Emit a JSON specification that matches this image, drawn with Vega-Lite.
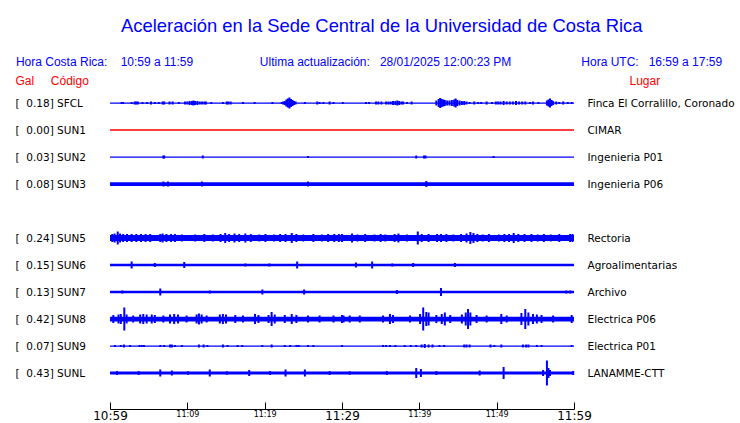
{
  "$schema": "https://vega.github.io/schema/vega-lite/v6.json",
  "width": 464,
  "height": 297,
  "autosize": {"type": "none"},
  "padding": {"left": 110, "right": 166, "top": 89.5, "bottom": 36.5},
  "background": "white",
  "config": {"view": {"stroke": null}},
  "title": {
    "text": "\u200b\u00a0\u00a0\u00a0\u00a0\u00a0Aceleración en la Sede Central de la Universidad de Costa Rica",
    "subtitle": "Hora Costa Rica:\u00a0\u00a0\u00a0\u00a010:59 a 11:59\u00a0\u00a0\u00a0\u00a0\u00a0\u00a0\u00a0\u00a0\u00a0\u00a0\u00a0\u00a0\u00a0\u00a0\u00a0\u00a0\u00a0\u00a0\u00a0\u00a0Ultima actualización:\u00a0\u00a0\u00a028/01/2025 12:00:23 PM\u00a0\u00a0\u00a0\u00a0\u00a0\u00a0\u00a0\u00a0\u00a0\u00a0\u00a0\u00a0\u00a0\u00a0\u00a0\u00a0\u00a0\u00a0\u00a0\u00a0\u00a0Hora UTC:\u00a0\u00a0\u00a016:59 a 17:59",
    "anchor": "middle",
    "frame": "group",
    "dx": 27,
    "offset": 6,
    "font": "Liberation Sans",
    "fontSize": 18.4,
    "fontWeight": "normal",
    "color": "#0000ff",
    "subtitleFont": "Liberation Sans",
    "subtitleFontSize": 12,
    "subtitleColor": "#0000ff",
    "subtitlePadding": 22
  },
  "datasets": {
    "stations": [
      {"s": "SFCL", "lab": "[\u00a0\u00a00.18]\u00a0SFCL", "place": "Finca El Corralillo, Coronado", "base": 5},
      {"s": "SUN1", "lab": "[\u00a0\u00a00.00]\u00a0SUN1", "place": "CIMAR", "base": 6},
      {"s": "SUN2", "lab": "[\u00a0\u00a00.03]\u00a0SUN2", "place": "Ingenieria P01", "base": 5},
      {"s": "SUN3", "lab": "[\u00a0\u00a00.08]\u00a0SUN3", "place": "Ingenieria P06", "base": 15},
      {"s": "SUN4", "lab": "", "place": "", "base": 0},
      {"s": "SUN5", "lab": "[\u00a0\u00a00.24]\u00a0SUN5", "place": "Rectoria", "base": 24},
      {"s": "SUN6", "lab": "[\u00a0\u00a00.15]\u00a0SUN6", "place": "Agroalimentarias", "base": 10},
      {"s": "SUN7", "lab": "[\u00a0\u00a00.13]\u00a0SUN7", "place": "Archivo", "base": 10},
      {"s": "SUN8", "lab": "[\u00a0\u00a00.42]\u00a0SUN8", "place": "Electrica P06", "base": 19},
      {"s": "SUN9", "lab": "[\u00a0\u00a00.07]\u00a0SUN9", "place": "Electrica P01", "base": 5},
      {"s": "SUNL", "lab": "[\u00a0\u00a00.43]\u00a0SUNL", "place": "LANAMME-CTT", "base": 12}
    ],
    "traces": [
      {"s":"SFCL","t":1.5,"a":8},{"s":"SFCL","t":1.7,"a":8},{"s":"SFCL","t":2.8,"a":8},{"s":"SFCL","t":3.2,"a":12},{"s":"SFCL","t":3.4,"a":12},{"s":"SFCL","t":3.6,"a":12},{"s":"SFCL","t":4.2,"a":8},{"s":"SFCL","t":4.8,"a":8},{"s":"SFCL","t":5.3,"a":12},{"s":"SFCL","t":5.8,"a":8},{"s":"SFCL","t":6.3,"a":8},{"s":"SFCL","t":6.8,"a":12},{"s":"SFCL","t":7.0,"a":12},{"s":"SFCL","t":7.7,"a":12},{"s":"SFCL","t":8.1,"a":12},{"s":"SFCL","t":8.9,"a":8},{"s":"SFCL","t":9.7,"a":12},{"s":"SFCL","t":10.0,"a":12},{"s":"SFCL","t":10.3,"a":16},{"s":"SFCL","t":10.6,"a":16},{"s":"SFCL","t":10.8,"a":20},{"s":"SFCL","t":11.0,"a":16},{"s":"SFCL","t":11.3,"a":16},{"s":"SFCL","t":11.6,"a":12},{"s":"SFCL","t":11.9,"a":12},{"s":"SFCL","t":12.2,"a":12},{"s":"SFCL","t":12.4,"a":12},{"s":"SFCL","t":13.1,"a":8},{"s":"SFCL","t":14.6,"a":8},{"s":"SFCL","t":15.1,"a":12},{"s":"SFCL","t":15.3,"a":12},{"s":"SFCL","t":15.6,"a":12},{"s":"SFCL","t":17.2,"a":8},{"s":"SFCL","t":18.7,"a":8},{"s":"SFCL","t":21.0,"a":8},{"s":"SFCL","t":22.2,"a":8},{"s":"SFCL","t":22.4,"a":12},{"s":"SFCL","t":22.6,"a":16},{"s":"SFCL","t":22.8,"a":28},{"s":"SFCL","t":23.0,"a":36},{"s":"SFCL","t":23.2,"a":44},{"s":"SFCL","t":23.4,"a":32},{"s":"SFCL","t":23.6,"a":24},{"s":"SFCL","t":23.8,"a":16},{"s":"SFCL","t":24.0,"a":12},{"s":"SFCL","t":25.2,"a":8},{"s":"SFCL","t":26.8,"a":12},{"s":"SFCL","t":27.1,"a":8},{"s":"SFCL","t":27.6,"a":8},{"s":"SFCL","t":28.4,"a":12},{"s":"SFCL","t":28.9,"a":8},{"s":"SFCL","t":30.1,"a":8},{"s":"SFCL","t":33.1,"a":8},{"s":"SFCL","t":33.5,"a":8},{"s":"SFCL","t":34.4,"a":12},{"s":"SFCL","t":34.7,"a":12},{"s":"SFCL","t":35.1,"a":12},{"s":"SFCL","t":35.7,"a":12},{"s":"SFCL","t":36.0,"a":12},{"s":"SFCL","t":36.3,"a":12},{"s":"SFCL","t":36.6,"a":16},{"s":"SFCL","t":36.9,"a":16},{"s":"SFCL","t":37.15,"a":20},{"s":"SFCL","t":37.4,"a":16},{"s":"SFCL","t":37.7,"a":12},{"s":"SFCL","t":37.9,"a":12},{"s":"SFCL","t":38.4,"a":8},{"s":"SFCL","t":39.0,"a":12},{"s":"SFCL","t":42.2,"a":20},{"s":"SFCL","t":42.5,"a":32},{"s":"SFCL","t":42.7,"a":40},{"s":"SFCL","t":42.9,"a":32},{"s":"SFCL","t":43.1,"a":28},{"s":"SFCL","t":43.3,"a":24},{"s":"SFCL","t":43.6,"a":20},{"s":"SFCL","t":43.9,"a":20},{"s":"SFCL","t":44.2,"a":24},{"s":"SFCL","t":44.5,"a":28},{"s":"SFCL","t":44.7,"a":36},{"s":"SFCL","t":44.9,"a":24},{"s":"SFCL","t":45.2,"a":20},{"s":"SFCL","t":45.5,"a":16},{"s":"SFCL","t":45.8,"a":16},{"s":"SFCL","t":46.1,"a":12},{"s":"SFCL","t":46.5,"a":8},{"s":"SFCL","t":47.1,"a":12},{"s":"SFCL","t":47.6,"a":8},{"s":"SFCL","t":48.0,"a":8},{"s":"SFCL","t":48.7,"a":12},{"s":"SFCL","t":49.4,"a":8},{"s":"SFCL","t":49.9,"a":12},{"s":"SFCL","t":50.2,"a":12},{"s":"SFCL","t":50.5,"a":12},{"s":"SFCL","t":50.9,"a":16},{"s":"SFCL","t":51.3,"a":12},{"s":"SFCL","t":51.7,"a":12},{"s":"SFCL","t":52.1,"a":12},{"s":"SFCL","t":52.5,"a":16},{"s":"SFCL","t":52.9,"a":12},{"s":"SFCL","t":53.3,"a":12},{"s":"SFCL","t":53.7,"a":12},{"s":"SFCL","t":54.3,"a":8},{"s":"SFCL","t":54.7,"a":12},{"s":"SFCL","t":55.4,"a":8},{"s":"SFCL","t":56.5,"a":20},{"s":"SFCL","t":56.7,"a":28},{"s":"SFCL","t":56.9,"a":36},{"s":"SFCL","t":57.1,"a":24},{"s":"SFCL","t":57.3,"a":16},{"s":"SFCL","t":57.7,"a":12},{"s":"SFCL","t":58.1,"a":8},{"s":"SFCL","t":58.6,"a":12},{"s":"SFCL","t":59.2,"a":8},{"s":"SFCL","t":59.7,"a":8},
      {"s":"SUN2","t":6.9,"a":12},{"s":"SUN2","t":7.0,"a":12},{"s":"SUN2","t":12.0,"a":12},{"s":"SUN2","t":25.6,"a":8},{"s":"SUN2","t":39.6,"a":12},{"s":"SUN2","t":40.6,"a":12},{"s":"SUN2","t":40.8,"a":12},{"s":"SUN2","t":49.6,"a":8},
      {"s":"SUN3","t":6.9,"a":20},{"s":"SUN3","t":7.5,"a":20},{"s":"SUN3","t":11.9,"a":20},{"s":"SUN3","t":25.6,"a":20},{"s":"SUN3","t":40.9,"a":24},
      {"s":"SUN5","t":0.3,"a":32},{"s":"SUN5","t":0.6,"a":36},{"s":"SUN5","t":1.0,"a":52},{"s":"SUN5","t":1.3,"a":36},{"s":"SUN5","t":1.7,"a":32},{"s":"SUN5","t":2.2,"a":32},{"s":"SUN5","t":2.8,"a":32},{"s":"SUN5","t":3.4,"a":32},{"s":"SUN5","t":4.0,"a":32},{"s":"SUN5","t":4.6,"a":32},{"s":"SUN5","t":5.2,"a":32},{"s":"SUN5","t":6.5,"a":32},{"s":"SUN5","t":6.8,"a":36},{"s":"SUN5","t":7.3,"a":32},{"s":"SUN5","t":7.9,"a":32},{"s":"SUN5","t":8.4,"a":32},{"s":"SUN5","t":9.3,"a":28},{"s":"SUN5","t":11.0,"a":28},{"s":"SUN5","t":12.2,"a":32},{"s":"SUN5","t":13.3,"a":28},{"s":"SUN5","t":14.3,"a":32},{"s":"SUN5","t":14.9,"a":40},{"s":"SUN5","t":15.4,"a":32},{"s":"SUN5","t":16.1,"a":36},{"s":"SUN5","t":16.7,"a":32},{"s":"SUN5","t":17.5,"a":36},{"s":"SUN5","t":18.2,"a":32},{"s":"SUN5","t":19.3,"a":28},{"s":"SUN5","t":20.1,"a":32},{"s":"SUN5","t":21.2,"a":28},{"s":"SUN5","t":22.0,"a":32},{"s":"SUN5","t":22.7,"a":32},{"s":"SUN5","t":23.5,"a":40},{"s":"SUN5","t":24.1,"a":32},{"s":"SUN5","t":25.0,"a":28},{"s":"SUN5","t":26.3,"a":32},{"s":"SUN5","t":27.4,"a":28},{"s":"SUN5","t":28.2,"a":32},{"s":"SUN5","t":29.0,"a":32},{"s":"SUN5","t":29.6,"a":32},{"s":"SUN5","t":30.0,"a":32},{"s":"SUN5","t":31.3,"a":36},{"s":"SUN5","t":32.0,"a":28},{"s":"SUN5","t":33.0,"a":32},{"s":"SUN5","t":34.2,"a":28},{"s":"SUN5","t":35.0,"a":32},{"s":"SUN5","t":35.6,"a":28},{"s":"SUN5","t":36.8,"a":32},{"s":"SUN5","t":37.3,"a":36},{"s":"SUN5","t":38.4,"a":28},{"s":"SUN5","t":39.8,"a":52},{"s":"SUN5","t":40.3,"a":32},{"s":"SUN5","t":41.2,"a":32},{"s":"SUN5","t":42.3,"a":32},{"s":"SUN5","t":42.8,"a":32},{"s":"SUN5","t":43.5,"a":32},{"s":"SUN5","t":44.4,"a":28},{"s":"SUN5","t":45.4,"a":32},{"s":"SUN5","t":46.1,"a":36},{"s":"SUN5","t":46.6,"a":48},{"s":"SUN5","t":47.0,"a":40},{"s":"SUN5","t":47.5,"a":32},{"s":"SUN5","t":48.2,"a":28},{"s":"SUN5","t":49.0,"a":32},{"s":"SUN5","t":50.3,"a":28},{"s":"SUN5","t":51.0,"a":32},{"s":"SUN5","t":51.6,"a":32},{"s":"SUN5","t":52.2,"a":40},{"s":"SUN5","t":52.8,"a":32},{"s":"SUN5","t":53.6,"a":32},{"s":"SUN5","t":54.5,"a":32},{"s":"SUN5","t":55.3,"a":28},{"s":"SUN5","t":56.1,"a":32},{"s":"SUN5","t":57.0,"a":28},{"s":"SUN5","t":58.1,"a":32},{"s":"SUN5","t":59.5,"a":32},{"s":"SUN5","t":59.8,"a":32},
      {"s":"SUN6","t":2.8,"a":28},{"s":"SUN6","t":5.8,"a":16},{"s":"SUN6","t":9.6,"a":24},{"s":"SUN6","t":17.5,"a":12},{"s":"SUN6","t":20.6,"a":12},{"s":"SUN6","t":24.2,"a":28},{"s":"SUN6","t":31.8,"a":20},{"s":"SUN6","t":33.9,"a":28},{"s":"SUN6","t":36.5,"a":12},{"s":"SUN6","t":39.2,"a":16},{"s":"SUN6","t":44.6,"a":16},
      {"s":"SUN7","t":1.6,"a":12},{"s":"SUN7","t":6.5,"a":28},{"s":"SUN7","t":12.9,"a":12},{"s":"SUN7","t":19.7,"a":20},{"s":"SUN7","t":25.1,"a":20},{"s":"SUN7","t":37.1,"a":16},{"s":"SUN7","t":42.8,"a":32},{"s":"SUN7","t":59.0,"a":12},{"s":"SUN7","t":59.5,"a":12},
      {"s":"SUN8","t":0.43,"a":32},{"s":"SUN8","t":1.1,"a":36},{"s":"SUN8","t":1.4,"a":40},{"s":"SUN8","t":1.85,"a":92},{"s":"SUN8","t":2.15,"a":36},{"s":"SUN8","t":3.0,"a":28},{"s":"SUN8","t":3.9,"a":36},{"s":"SUN8","t":4.3,"a":40},{"s":"SUN8","t":4.74,"a":36},{"s":"SUN8","t":5.4,"a":36},{"s":"SUN8","t":5.8,"a":32},{"s":"SUN8","t":6.9,"a":28},{"s":"SUN8","t":7.76,"a":36},{"s":"SUN8","t":8.3,"a":40},{"s":"SUN8","t":8.8,"a":36},{"s":"SUN8","t":9.9,"a":28},{"s":"SUN8","t":11.2,"a":36},{"s":"SUN8","t":11.5,"a":44},{"s":"SUN8","t":11.85,"a":36},{"s":"SUN8","t":12.5,"a":28},{"s":"SUN8","t":14.2,"a":36},{"s":"SUN8","t":14.6,"a":40},{"s":"SUN8","t":15.0,"a":36},{"s":"SUN8","t":16.2,"a":32},{"s":"SUN8","t":17.2,"a":28},{"s":"SUN8","t":18.75,"a":40},{"s":"SUN8","t":19.2,"a":32},{"s":"SUN8","t":20.5,"a":32},{"s":"SUN8","t":20.9,"a":56},{"s":"SUN8","t":21.3,"a":36},{"s":"SUN8","t":22.6,"a":32},{"s":"SUN8","t":23.5,"a":40},{"s":"SUN8","t":24.1,"a":32},{"s":"SUN8","t":25.6,"a":28},{"s":"SUN8","t":27.1,"a":28},{"s":"SUN8","t":28.9,"a":28},{"s":"SUN8","t":30.0,"a":32},{"s":"SUN8","t":30.2,"a":28},{"s":"SUN8","t":31.0,"a":28},{"s":"SUN8","t":32.3,"a":28},{"s":"SUN8","t":35.3,"a":28},{"s":"SUN8","t":36.2,"a":40},{"s":"SUN8","t":36.6,"a":32},{"s":"SUN8","t":38.8,"a":28},{"s":"SUN8","t":40.1,"a":40},{"s":"SUN8","t":40.5,"a":92},{"s":"SUN8","t":40.9,"a":56},{"s":"SUN8","t":41.2,"a":52},{"s":"SUN8","t":42.2,"a":32},{"s":"SUN8","t":42.9,"a":40},{"s":"SUN8","t":43.3,"a":52},{"s":"SUN8","t":44.0,"a":32},{"s":"SUN8","t":45.5,"a":36},{"s":"SUN8","t":46.0,"a":52},{"s":"SUN8","t":46.3,"a":80},{"s":"SUN8","t":46.6,"a":52},{"s":"SUN8","t":47.4,"a":32},{"s":"SUN8","t":48.7,"a":28},{"s":"SUN8","t":50.6,"a":40},{"s":"SUN8","t":51.3,"a":28},{"s":"SUN8","t":53.2,"a":48},{"s":"SUN8","t":53.7,"a":80},{"s":"SUN8","t":54.1,"a":52},{"s":"SUN8","t":54.7,"a":40},{"s":"SUN8","t":55.2,"a":36},{"s":"SUN8","t":55.8,"a":32},{"s":"SUN8","t":57.3,"a":28},{"s":"SUN8","t":59.7,"a":32},
      {"s":"SUN9","t":0.65,"a":8},{"s":"SUN9","t":1.4,"a":8},{"s":"SUN9","t":1.8,"a":12},{"s":"SUN9","t":2.6,"a":8},{"s":"SUN9","t":3.8,"a":8},{"s":"SUN9","t":4.1,"a":8},{"s":"SUN9","t":4.4,"a":8},{"s":"SUN9","t":6.5,"a":8},{"s":"SUN9","t":7.0,"a":8},{"s":"SUN9","t":7.76,"a":12},{"s":"SUN9","t":8.0,"a":12},{"s":"SUN9","t":8.4,"a":8},{"s":"SUN9","t":9.3,"a":8},{"s":"SUN9","t":11.5,"a":12},{"s":"SUN9","t":12.1,"a":12},{"s":"SUN9","t":12.6,"a":8},{"s":"SUN9","t":14.6,"a":12},{"s":"SUN9","t":15.2,"a":8},{"s":"SUN9","t":16.5,"a":8},{"s":"SUN9","t":17.1,"a":8},{"s":"SUN9","t":19.7,"a":8},{"s":"SUN9","t":20.9,"a":12},{"s":"SUN9","t":22.6,"a":8},{"s":"SUN9","t":23.3,"a":8},{"s":"SUN9","t":24.1,"a":8},{"s":"SUN9","t":24.4,"a":8},{"s":"SUN9","t":25.6,"a":8},{"s":"SUN9","t":26.3,"a":8},{"s":"SUN9","t":30.0,"a":8},{"s":"SUN9","t":35.3,"a":8},{"s":"SUN9","t":35.7,"a":8},{"s":"SUN9","t":36.2,"a":8},{"s":"SUN9","t":36.9,"a":8},{"s":"SUN9","t":38.1,"a":8},{"s":"SUN9","t":38.9,"a":8},{"s":"SUN9","t":39.6,"a":8},{"s":"SUN9","t":40.3,"a":12},{"s":"SUN9","t":40.7,"a":16},{"s":"SUN9","t":41.2,"a":12},{"s":"SUN9","t":41.7,"a":12},{"s":"SUN9","t":42.6,"a":8},{"s":"SUN9","t":43.2,"a":8},{"s":"SUN9","t":45.8,"a":12},{"s":"SUN9","t":46.1,"a":12},{"s":"SUN9","t":46.5,"a":12},{"s":"SUN9","t":49.2,"a":12},{"s":"SUN9","t":49.7,"a":8},{"s":"SUN9","t":50.6,"a":12},{"s":"SUN9","t":53.4,"a":12},{"s":"SUN9","t":53.8,"a":12},{"s":"SUN9","t":54.1,"a":12},{"s":"SUN9","t":55.2,"a":8},{"s":"SUN9","t":55.8,"a":8},{"s":"SUN9","t":59.7,"a":8},
      {"s":"SUNL","t":0.9,"a":16},{"s":"SUNL","t":3.7,"a":16},{"s":"SUNL","t":6.5,"a":28},{"s":"SUNL","t":8.0,"a":20},{"s":"SUNL","t":10.1,"a":14},{"s":"SUNL","t":12.9,"a":28},{"s":"SUNL","t":15.1,"a":14},{"s":"SUNL","t":18.0,"a":24},{"s":"SUNL","t":20.7,"a":16},{"s":"SUNL","t":22.7,"a":28},{"s":"SUNL","t":25.2,"a":28},{"s":"SUNL","t":28.4,"a":16},{"s":"SUNL","t":31.0,"a":14},{"s":"SUNL","t":35.8,"a":16},{"s":"SUNL","t":39.6,"a":40},{"s":"SUNL","t":40.2,"a":32},{"s":"SUNL","t":42.2,"a":16},{"s":"SUNL","t":47.8,"a":20},{"s":"SUNL","t":50.9,"a":48},{"s":"SUNL","t":56.0,"a":24},{"s":"SUNL","t":56.5,"a":100},{"s":"SUNL","t":56.7,"a":40},{"s":"SUNL","t":56.9,"a":24},{"s":"SUNL","t":59.9,"a":16}
    ]
  },
  "layer": [
    {
      "data": {"name": "stations"},
      "mark": {"type": "rule"},
      "encoding": {
        "x": {"datum": 0, "type": "quantitative", "scale": {"domain": [0, 60], "nice": false, "zero": false},
          "axis": {"values": [0,5,10,15,20,25,30,35,40,45,50,55,60], "title": null, "grid": false, "offset": 22.5, "tickSize": -7, "tickColor": "black", "domainColor": "black", "labelColor": "black", "labelFont": "DejaVu Sans", "labelFontSize": {"condition": {"test": "datum.value % 30 == 0", "value": 12}, "value": 8}, "labelBaseline": "top", "labelPadding": 8, "labelFlush": false, "labelOverlap": false, "labelExpr": "datum.value % 10 == 0 ? timeFormat(datetime(2025, 0, 28, 10, 59 + datum.value), '%H:%M') : ''"}},
        "x2": {"datum": 60},
        "y": {"field": "lab", "type": "nominal", "sort": null, "scale": {"type": "point", "padding": 0.5},
          "axis": {"orient": "left", "domain": false, "ticks": false, "grid": false, "labelAlign": "left", "labelPadding": 95, "labelFont": "DejaVu Sans", "labelFontSize": 10.5, "labelColor": "black", "labelOverlap": false, "labelLimit": 0,
            "title": "Gal\u00a0\u00a0\u00a0\u00a0\u00a0Código", "titleAngle": 0, "titleX": -95, "titleY": -5.5, "titleAlign": "left", "titleBaseline": "alphabetic", "titleFont": "Liberation Sans", "titleFontSize": 12, "titleFontWeight": "normal", "titleColor": "#ff0000"}},
        "strokeWidth": {"field": "base", "type": "quantitative", "scale": {"type": "linear", "domain": [0, 100], "range": [0, 25]}, "legend": null},
        "color": {"field": "s", "type": "nominal", "scale": {"domain": ["SFCL","SUN1","SUN2","SUN3","SUN4","SUN5","SUN6","SUN7","SUN8","SUN9","SUNL"], "range": ["#0000ff","#ff0000","#0000ff","#0000ff","#0000ff","#0000ff","#0000ff","#0000ff","#0000ff","#0000ff","#0000ff"]}, "legend": null}
      }
    },
    {
      "data": {"name": "stations"},
      "mark": {"type": "rule", "opacity": 0},
      "encoding": {
        "x": {"datum": 0, "type": "quantitative"},
        "x2": {"datum": 60},
        "y": {"field": "place", "type": "nominal", "sort": null, "scale": {"type": "point", "padding": 0.5},
          "axis": {"orient": "right", "domain": false, "ticks": false, "grid": false, "labelAlign": "left", "labelPadding": 13, "labelFont": "DejaVu Sans", "labelFontSize": 10.5, "labelColor": "black", "labelOverlap": false, "labelLimit": 0,
            "title": "Lugar", "titleAngle": 0, "titleX": 55, "titleY": -5.5, "titleAlign": "left", "titleBaseline": "alphabetic", "titleFont": "Liberation Sans", "titleFontSize": 12, "titleFontWeight": "normal", "titleColor": "#ff0000"}}
      }
    },
    {
      "data": {"name": "traces"},
      "mark": {"type": "tick", "orient": "vertical", "thickness": 2, "opacity": 1},
      "encoding": {
        "x": {"field": "t", "type": "quantitative"},
        "y": {"field": "s", "type": "nominal", "scale": {"type": "point", "padding": 0.5, "domain": ["SFCL","SUN1","SUN2","SUN3","SUN4","SUN5","SUN6","SUN7","SUN8","SUN9","SUNL"]}, "axis": null},
        "size": {"field": "a", "type": "quantitative", "scale": {"type": "linear", "domain": [0, 100], "range": [0, 25]}, "legend": null},
        "color": {"field": "s", "type": "nominal", "legend": null}
      }
    }
  ],
  "resolve": {"scale": {"y": "independent"}, "axis": {"y": "independent"}}
}
